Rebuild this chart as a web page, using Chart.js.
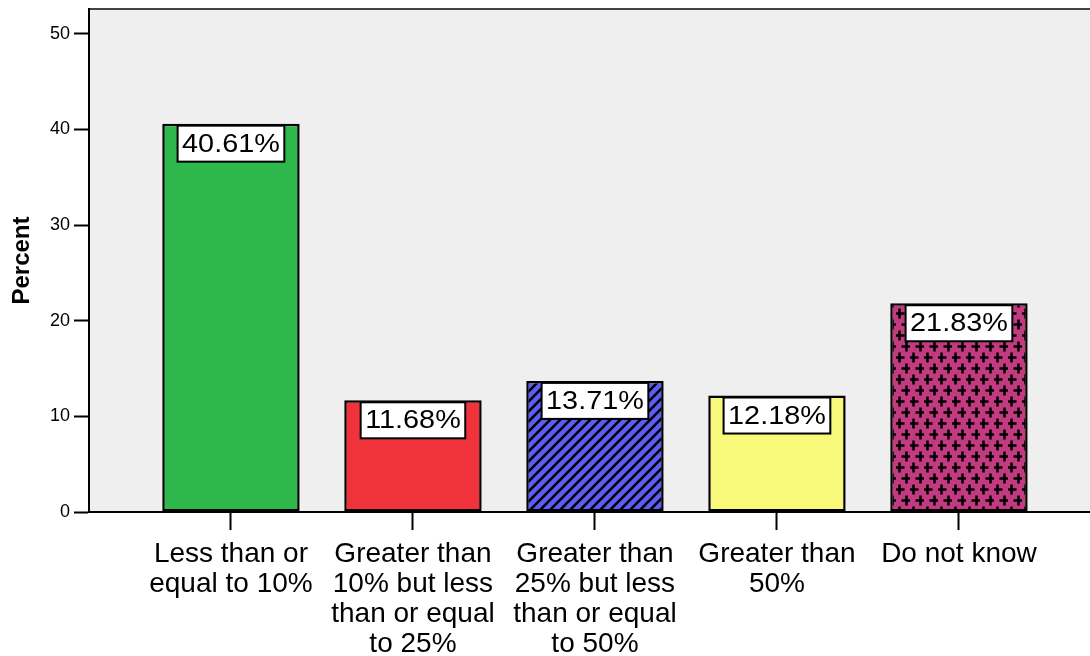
<!DOCTYPE html>
<html>
<head>
<meta charset="utf-8">
<script src="https://cdn.jsdelivr.net/npm/chart.js@4.4.0/dist/chart.umd.min.js"></script>
<style>
  html, body { margin: 0; padding: 0; background: #fff; overflow: hidden; }
  #wrap { width: 1090px; height: 656px; position: relative; }
</style>
</head>
<body>
<div id="wrap"><canvas id="grafico"></canvas></div>
<script>
// categorias e valores (percentuais)
const categorias = [
    ['Less than or', 'equal to 10%'],
    ['Greater than', '10% but less', 'than or equal', 'to 25%'],
    ['Greater than', '25% but less', 'than or equal', 'to 50%'],
    ['Greater than', '50%'],
    ['Do not know']
];
const percentuais = [40.61, 11.68, 13.71, 12.18, 21.83];
const rotulos = ['40.61%', '11.68%', '13.71%', '12.18%', '21.83%'];
const yTicks = [0, 10, 20, 30, 40, 50];

const FONTE = '"Liberation Sans", Arial, sans-serif';

// padrões de preenchimento
function hachura(cor) {
    const c = document.createElement('canvas');
    c.width = 10; c.height = 10;
    const g = c.getContext('2d');
    g.fillStyle = cor;
    g.fillRect(0, 0, 10, 10);
    g.strokeStyle = '#000';
    g.lineWidth = 2.6;
    g.beginPath();
    g.moveTo(-1, 11); g.lineTo(11, -1);
    g.moveTo(-6, 6); g.lineTo(6, -6);
    g.moveTo(4, 16); g.lineTo(16, 4);
    g.stroke();
    return g.createPattern(c, 'repeat');
}

function cruzes(cor) {
    const c = document.createElement('canvas');
    c.width = 14; c.height = 22;
    const g = c.getContext('2d');
    g.fillStyle = cor;
    g.fillRect(0, 0, 14, 22);
    g.fillStyle = '#000';
    const cruz = (x, y) => {
        g.fillRect(x - 5, y - 1.25, 10, 2.5);
        g.fillRect(x - 1.25, y - 5, 2.5, 10);
    };
    cruz(3.5, 5.5);
    cruz(10.5, 16.5);
    return g.createPattern(c, 'repeat');
}

const cores = ['#2eb84b', '#f0333a', hachura('#5c5cf6'), '#f8f87a', cruzes('#c23b80')];

const fundoPlot = {
    id: 'fundoPlot',
    beforeDraw(chart) {
        const { ctx, chartArea: a } = chart;
        ctx.save();
        ctx.fillStyle = '#efefef';
        ctx.fillRect(a.left, a.top, a.right - a.left, a.bottom - a.top);
        ctx.strokeStyle = '#444';
        ctx.lineWidth = 2;
        ctx.beginPath();
        ctx.moveTo(a.left, a.top);
        ctx.lineTo(a.right, a.top);
        ctx.stroke();
        ctx.restore();
    }
};

const caixasValor = {
    id: 'caixasValor',
    afterDatasetsDraw(chart) {
        const { ctx } = chart;
        const meta = chart.getDatasetMeta(0);
        const estica = 1.13;
        ctx.save();
        ctx.font = '25.5px ' + FONTE;
        ctx.textAlign = 'center';
        ctx.textBaseline = 'middle';
        meta.data.forEach((bar, i) => {
            const txt = rotulos[i];
            const w = ctx.measureText(txt).width * estica + 9;
            const h = 36;
            const x = bar.x - w / 2;
            const y = bar.y + 2;
            ctx.fillStyle = '#fff';
            ctx.fillRect(x, y, w, h);
            ctx.strokeStyle = '#000';
            ctx.lineWidth = 2;
            ctx.strokeRect(x, y, w, h);
            ctx.fillStyle = '#000';
            ctx.save();
            ctx.translate(bar.x, y + h / 2 + 1);
            ctx.scale(estica, 1);
            ctx.fillText(txt, 0, 0);
            ctx.restore();
        });
        ctx.restore();
    }
};

new Chart(document.getElementById('grafico'), {
    type: 'bar',
    data: {
        datasets: [{
            data: percentuais.map((v, i) => ({ x: i, y: v })),
            backgroundColor: cores,
            borderColor: '#000',
            borderWidth: 2.5,
            borderSkipped: false,
            barPercentage: 0.755,
            categoryPercentage: 1
        }]
    },
    options: {
        responsive: true,
        maintainAspectRatio: false,
        animation: false,
        layout: { padding: { top: 9, right: 0, left: 0, bottom: 0 } },
        plugins: {
            legend: { display: false },
            tooltip: { enabled: false }
        },
        scales: {
            x: {
                type: 'linear',
                min: -0.78,
                max: 4.72,
                offset: false,
                ticks: {
                    stepSize: 1,
                    includeBounds: false,
                    autoSkip: false,
                    maxRotation: 0,
                    minRotation: 0,
                    padding: 9,
                    color: '#000',
                    font: { family: FONTE, size: 28, lineHeight: 1.07 },
                    callback: v => categorias[v] || ''
                },
                afterBuildTicks: s => {
                    s.ticks = s.ticks.filter(t => Number.isInteger(t.value) && t.value >= 0 && t.value < categorias.length);
                },
                afterFit: s => { s.height = 144; s.paddingLeft = 0; s.paddingRight = 0; },
                grid: {
                    offset: false,
                    drawOnChartArea: false,
                    drawTicks: true,
                    tickLength: 18,
                    color: '#000',
                    tickWidth: 2
                },
                border: { display: true, color: '#000', width: 2 }
            },
            y: {
                min: 0,
                max: 52.6,
                afterBuildTicks: s => { s.ticks = yTicks.map(v => ({ value: v })); },
                afterFit: s => { s.width = 89; s.paddingTop = 0; s.paddingBottom = 0; },
                ticks: {
                    padding: 4,
                    color: '#000',
                    font: { family: FONTE, size: 18 }
                },
                grid: {
                    drawOnChartArea: false,
                    drawTicks: true,
                    tickLength: 15,
                    color: '#000',
                    tickWidth: 2
                },
                border: { display: true, color: '#000', width: 2 },
                title: {
                    display: true,
                    text: 'Percent',
                    color: '#000',
                    padding: { top: 8, bottom: 0 },
                    font: { family: FONTE, size: 24, weight: 'bold' }
                }
            }
        }
    },
    plugins: [fundoPlot, caixasValor]
});
</script>
</body>
</html>
